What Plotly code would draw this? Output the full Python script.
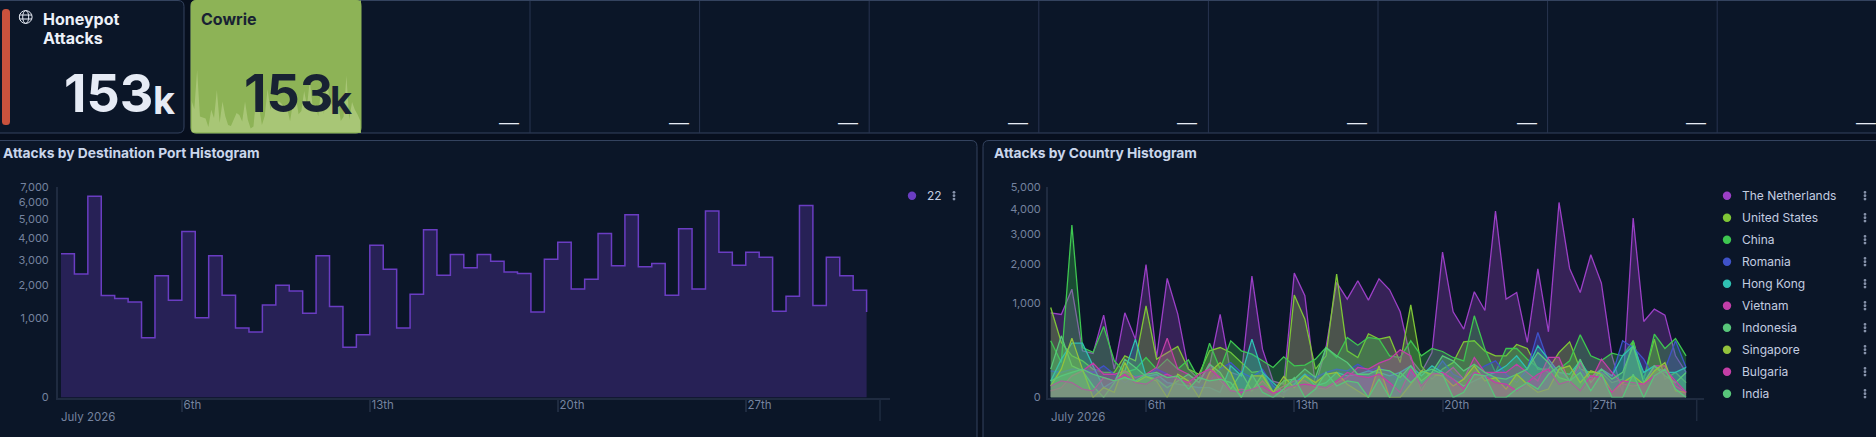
import numpy as np
import pandas as pd
import plotly.graph_objects as go

W, H = 1876, 437
FONT = "Inter"

# 12 hour buckets, first one starts at noon on the 1st
bucket_times = pd.date_range("2026-07-01 12:00", "2026-07-31 12:00", freq="12h")

port_label = "22"
port_values = [
    3261, 2414, 6391, 1640, 1545, 1442, 565, 2337, 1493, 4356,
    1007, 3170, 1651, 763, 677, 1353, 1991, 1795, 1120, 3170,
    1305, 397, 623, 3667, 2601, 763, 1684, 4444, 2362, 3231,
    2655, 3231, 2936, 2493, 2427, 1156, 3023, 3813, 1863, 2210,
    4251, 2738, 5277, 2696, 2836, 1651, 4498, 1863, 5491, 3337,
    2766, 3337, 3111, 1174, 1619, 5831, 1334, 3111, 2337, 1817,
    1156,
]

countries = ["The Netherlands", "United States", "China", "Romania", "Hong Kong",
             "Vietnam", "Indonesia", "Singapore", "Bulgaria", "India"]
country_colors = ["#9b3fc6", "#7fc636", "#3ec650", "#3f52c8", "#2fc0b2",
                  "#c23ea8", "#58c67a", "#93c23c", "#c43ea6", "#58c67a"]

netherlands = [
    809, 778, 1325, 246, 219, 765, 91, 809, 384, 1997,
    181, 1599, 784, 91, 38, 113, 778, 71, 53, 1662,
    264, 30, 20, 1746, 1167, 15, 282, 1493, 1092, 1537,
    1070, 1590, 1309, 829, 166, 71, 229, 2385, 829, 527,
    1261, 855, 3921, 1092, 1245, 342, 1869, 487, 4294, 1879,
    1245, 2298, 1476, 196, 3, 3632, 652, 881, 765, 196,
    71,
]
united_states = [
    915, 342, 196, 152, 91, 71, 71, 196, 152, 949,
    166, 229, 294, 91, 61, 246, 282, 229, 138, 71,
    80, 3, 0, 1183, 693, 91, 196, 1718, 246, 181,
    458, 384, 416, 138, 970, 113, 38, 91, 138, 350,
    363, 242, 196, 196, 317, 271, 91, 91, 229, 350,
    91, 71, 71, 25, 38, 363, 38, 384, 38, 71,
    25,
]
china = [
    363, 138, 3353, 282, 229, 569, 152, 71, 91, 181,
    91, 166, 91, 160, 38, 333, 91, 363, 246, 212,
    152, 102, 187, 113, 118, 166, 282, 181, 407, 309,
    407, 384, 196, 181, 363, 196, 271, 239, 181, 152,
    753, 264, 71, 271, 271, 166, 102, 71, 91, 152,
    443, 196, 155, 222, 196, 363, 38, 453, 271, 393,
    196,
]
romania = [
    80, 71, 91, 91, 71, 113, 61, 25, 53, 50,
    91, 61, 38, 15, 11, 31, 91, 138, 71, 45,
    91, 15, 1, 25, 61, 45, 71, 91, 80, 125,
    80, 102, 71, 31, 71, 25, 53, 152, 61, 38,
    71, 113, 152, 61, 25, 91, 477, 138, 71, 38,
    91, 25, 71, 53, 363, 282, 166, 38, 91, 363,
    102,
]
hong_kong = [
    31, 166, 333, 333, 113, 11, 31, 80, 384, 50,
    61, 25, 20, 15, 11, 11, 3, 113, 53, 384,
    71, 25, 3, 20, 61, 15, 25, 71, 53, 61,
    80, 71, 53, 71, 113, 53, 113, 71, 38, 15,
    31, 53, 71, 113, 196, 91, 301, 166, 71, 61,
    152, 45, 91, 53, 196, 301, 71, 113, 71, 71,
    102,
]
vietnam = [
    5, 11, 53, 80, 133, 61, 61, 80, 45, 61,
    102, 398, 91, 61, 25, 133, 31, 5, 8, 5,
    31, 3, 15, 31, 31, 11, 8, 25, 45, 102,
    91, 133, 166, 257, 196, 5, 71, 53, 102, 38,
    181, 71, 71, 71, 125, 71, 31, 181, 181, 25,
    138, 31, 166, 71, 20, 15, 20, 113, 113, 15,
    3,
]
indonesia = [
    91, 429, 113, 80, 15, 0, 25, 166, 102, 50,
    38, 11, 31, 61, 25, 125, 71, 8, 71, 5,
    61, 3, 31, 38, 91, 45, 282, 196, 138, 61,
    61, 91, 80, 45, 113, 31, 71, 196, 152, 80,
    125, 71, 45, 38, 61, 91, 229, 138, 45, 31,
    166, 25, 91, 38, 71, 301, 25, 113, 53, 25,
    71,
]
singapore = [
    15, 91, 398, 91, 0, 11, 3, 138, 25, 50,
    31, 0, 61, 31, 0, 71, 138, 71, 0, 53,
    53, 3, 50, 11, 53, 25, 61, 71, 20, 5,
    0, 113, 0, 0, 20, 80, 61, 53, 15, 38,
    113, 31, 45, 8, 61, 20, 3, 8, 91, 113,
    25, 80, 61, 3, 25, 53, 20, 80, 138, 5,
    3,
]
bulgaria = [
    15, 31, 25, 8, 5, 45, 31, 61, 25, 20,
    45, 61, 38, 25, 61, 91, 45, 5, 3, 8,
    15, 2, 8, 15, 20, 15, 11, 31, 71, 53,
    45, 61, 25, 3, 91, 15, 61, 71, 38, 8,
    71, 53, 25, 20, 5, 25, 61, 91, 20, 31,
    5, 53, 45, 3, 31, 25, 20, 53, 91, 31,
    3,
]
india = [
    31, 53, 71, 91, 61, 45, 31, 45, 31, 61,
    71, 45, 53, 8, 45, 31, 38, 25, 0, 61,
    3, 0, 8, 45, 0, 8, 71, 15, 31, 25,
    0, 38, 0, 71, 25, 71, 91, 61, 0, 3,
    61, 53, 0, 0, 8, 25, 8, 61, 113, 31,
    71, 5, 61, 0, 0, 61, 0, 53, 91, 8,
    0,
]
country_values = [netherlands, united_states, china, romania, hong_kong,
                  vietnam, indonesia, singapore, bulgaria, india]

port_ticks = [0, 1000, 2000, 3000, 4000, 5000, 6000, 7000]
country_ticks = [0, 1000, 2000, 3000, 4000, 5000]
date_ticks = ["2026-07-06", "2026-07-13", "2026-07-20", "2026-07-27"]
date_labels = ["6th", "13th", "20th", "27th"]
total_label = "153"
empty_cells = 9


def px(x):
    return x / W


def py(y):
    return 1 - y / H


def rounded(x0, y0, x1, y1, r):
    pts = (
        f"M {px(x0 + r)} {py(y0)} L {px(x1 - r)} {py(y0)} "
        f"Q {px(x1)} {py(y0)} {px(x1)} {py(y0 + r)} L {px(x1)} {py(y1 - r)} "
        f"Q {px(x1)} {py(y1)} {px(x1 - r)} {py(y1)} L {px(x0 + r)} {py(y1)} "
        f"Q {px(x0)} {py(y1)} {px(x0)} {py(y1 - r)} L {px(x0)} {py(y0 + r)} "
        f"Q {px(x0)} {py(y0)} {px(x0 + r)} {py(y0)} Z"
    )
    return pts


def box(x0, y0, x1, y1, r, fill, line, width=1):
    return dict(type="path", path=rounded(x0, y0, x1, y1, r), xref="paper", yref="paper",
                fillcolor=fill, line=dict(color=line, width=width), layer="below")


def hline(x0, y0, x1, y1, color, width=1):
    return dict(type="line", x0=px(x0), x1=px(x1), y0=py(y0), y1=py(y1), xref="paper",
                yref="paper", line=dict(color=color, width=width), layer="below")


def dot(x, y, r, color, line=None):
    return dict(type="circle", x0=px(x - r), x1=px(x + r), y0=py(y - r), y1=py(y + r),
                xref="paper", yref="paper", fillcolor=color,
                line=dict(color=line or color, width=1 if line else 0))


def label(x, y, text, size, color, anchor="left", bold=False, weight=None):
    font = dict(size=size, color=color, family=FONT)
    if weight:
        font["weight"] = weight
    return dict(x=px(x), y=py(y), xref="paper", yref="paper", text=f"<b>{text}</b>" if bold else text,
                showarrow=False, xanchor=anchor, yanchor="middle", font=font)


def kebab(x, y):
    return [dot(x, y + d, 1.4, "#8793ab") for d in (-3.4, 0, 3.4)]


PAGE = "#070f1e"
PANEL = "#0b1628"
EDGE = "#34435f"
AXIS = "#1f2b40"
TICK_TEXT = "#75839f"
LEGEND_TEXT = "#c3cde0"
TITLE_TEXT = "#cad6ec"

shapes = [
    box(-8, 0.5, 184, 133, 6, PANEL, EDGE),
    box(191, 0.5, 1890, 133, 6, PANEL, EDGE),
    box(191, 0.5, 361, 133, 5, "#8db356", "#8db356"),
    dict(type="rect", x0=px(300), x1=px(361), y0=py(0.5), y1=py(133), xref="paper", yref="paper",
         fillcolor="#8db356", line=dict(width=0), layer="below"),
    box(-8, 140.5, 977, 450, 6, PANEL, EDGE),
    box(983, 140.5, 1890, 450, 6, PANEL, EDGE),
    dict(type="path", path=rounded(2, 9, 10, 125, 3.5), xref="paper", yref="paper",
         fillcolor="#c9523d", line=dict(width=0), layer="below"),
    # globe icon
    dot(25.7, 17, 6.4, "rgba(0,0,0,0)", "#e6ebf5"),
    dict(type="circle", x0=px(22.7), x1=px(28.7), y0=py(10.6), y1=py(23.4), xref="paper",
         yref="paper", line=dict(color="#e6ebf5", width=1)),
    dict(type="line", x0=px(19.5), x1=px(32), y0=py(15), y1=py(15), xref="paper", yref="paper",
         line=dict(color="#e6ebf5", width=1)),
    dict(type="line", x0=px(19.5), x1=px(32), y0=py(19), y1=py(19), xref="paper", yref="paper",
         line=dict(color="#e6ebf5", width=1)),
]

annotations = [
    label(41, 19, "Honeypot", 16, "#edf1f9", bold=True),
    label(41, 38, "Attacks", 16, "#edf1f9", bold=True),
    label(155, 94, total_label, 52, "#e6ebf5", anchor="right", bold=True),
    label(177, 100, "k", 38, "#e6ebf5", anchor="right", bold=True),
    label(199, 19, "Cowrie", 16, "#182233", bold=True),
    label(335, 94, total_label, 52, "#182233", anchor="right", bold=True),
    label(354, 100, "k", 38, "#182233", anchor="right", bold=True),
    label(1, 153, "Attacks by Destination Port Histogram", 13.8, TITLE_TEXT, bold=True),
    label(992, 153, "Attacks by Country Histogram", 13.8, TITLE_TEXT, bold=True),
    label(59, 417, "July 2026", 11.5, TICK_TEXT),
    label(1049, 417, "July 2026", 11.5, TICK_TEXT),
]

# the empty metric cells, each with a dash in its corner
for i in range(empty_cells):
    right = 530 + i * 169.6
    if i < empty_cells - 1:
        shapes.append(hline(right, 1, right, 133, "#283450"))
    annotations.append(label(right - 21, 122.5, "—", 20, "#e6ebf5", anchor="center", weight=300))

# legends
shapes.append(dot(912, 195.7, 4.2, "#6a3dc2"))
annotations.append(label(924.5, 195.7, port_label, 12, LEGEND_TEXT))
shapes += kebab(954, 195.7)
for i, name in enumerate(countries):
    row = 195.7 + i * 22
    shapes.append(dot(1727, row, 4.2, country_colors[i]))
    annotations.append(label(1739.5, row, name, 12, LEGEND_TEXT))
    shapes += kebab(1865, row)

# end of the time range gets a longer tick without a label
for xref, axis_top in (("x", 398.3), ("x2", 398.3)):
    shapes.append(dict(type="line", x0="2026-08-01", x1="2026-08-01", xref=xref, yref="paper",
                       y0=py(axis_top), y1=py(421), line=dict(color=AXIS, width=1.5)))

fig = go.Figure()
fig.add_trace(go.Scatter(
    x=bucket_times, y=np.sqrt(port_values), name=port_label, mode="lines",
    line=dict(color="#6a3dc2", width=1.5, shape="hv"), fill="tozeroy",
    fillcolor="rgba(106,61,194,0.3)", xaxis="x", yaxis="y", hoverinfo="skip",
))
for name, values, color in zip(countries, country_values, country_colors):
    r, g, b = (int(color[i:i + 2], 16) for i in (1, 3, 5))
    fig.add_trace(go.Scatter(
        x=bucket_times, y=np.sqrt(values), name=name, mode="lines",
        line=dict(color=color, width=1.3), fill="tozeroy",
        fillcolor=f"rgba({r},{g},{b},0.3)", xaxis="x2", yaxis="y2", hoverinfo="skip",
    ))
# sparkline behind the Cowrie metric
fig.add_trace(go.Scatter(
    x=bucket_times, y=port_values, name="Cowrie", mode="lines",
    line=dict(color="#a8c676", width=0), fill="tozeroy", fillcolor="#a8c676",
    xaxis="x3", yaxis="y3", hoverinfo="skip",
))


def x_axis(left, right, start, end):
    return dict(
        domain=[px(left), px(right)], range=[start, end], type="date",
        tickmode="array", tickvals=date_ticks, ticktext=date_labels,
        ticks="outside", ticklen=12, tickwidth=1.5, tickcolor=AXIS, ticklabelstandoff=-4,
        ticklabelposition="outside right", showgrid=False, zeroline=False,
        showline=True, linecolor=AXIS, linewidth=2,
        tickfont=dict(family=FONT, size=11.5, color=TICK_TEXT),
    )


def y_axis(ticks, anchor, standoff):
    return dict(
        domain=[py(397.5), py(187)], range=[0, float(np.sqrt(ticks[-1]))], anchor=anchor,
        tickmode="array", tickvals=[float(np.sqrt(t)) for t in ticks],
        ticktext=[f"{t:,}" for t in ticks], ticks="", ticklabelstandoff=standoff,
        showgrid=False, zeroline=False, showline=True, linecolor=AXIS, linewidth=2,
        tickfont=dict(family=FONT, size=11, color=TICK_TEXT),
    )


fig.update_layout(
    width=W, height=H, margin=dict(l=0, r=0, t=0, b=0, pad=0, autoexpand=False),
    paper_bgcolor=PAGE, plot_bgcolor="rgba(0,0,0,0)", showlegend=False,
    font=dict(family=FONT),
    xaxis=x_axis(58, 890, "2026-07-01 09:20", "2026-08-01 08:55"),
    yaxis=y_axis(port_ticks, "x", 5),
    xaxis2=x_axis(1048, 1704, "2026-07-01 08:56", "2026-08-01 08:16"),
    yaxis2=y_axis(country_ticks, "x2", 3),
    xaxis3=dict(domain=[px(191.5), px(360.5)], range=[bucket_times[0], bucket_times[-1]],
                visible=False, anchor="y3"),
    yaxis3=dict(domain=[py(132.5), py(0.5)], range=[0, 13490], visible=False, anchor="x3"),
    shapes=shapes, annotations=annotations,
)

fig.write_html("out.html", config=dict(displayModeBar=False),
               post_script="document.body.style.margin='0';document.body.style.overflow='hidden';")
